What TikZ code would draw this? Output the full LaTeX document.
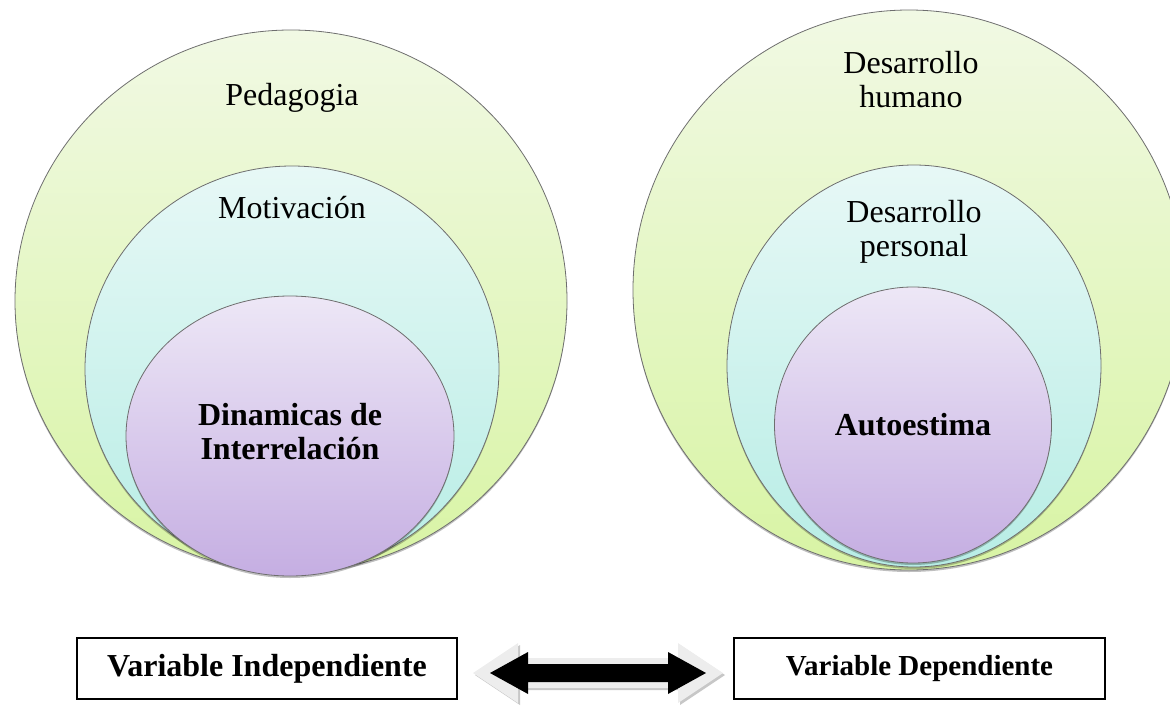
\documentclass[tikz,border=0pt]{standalone}
\usepackage{fontspec}
\setmainfont{Liberation Serif}
\usetikzlibrary{shapes.geometric}
\definecolor{gtop}{HTML}{F1F9E4}
\definecolor{gbot}{HTML}{D8F4A4}
\definecolor{ctop}{HTML}{E7F8F6}
\definecolor{cbot}{HTML}{B7EDE5}
\definecolor{ptop}{HTML}{EDE7F6}
\definecolor{pbot}{HTML}{C5AEE2}
\definecolor{ringline}{HTML}{6E6E6E}
\begin{document}
\begin{tikzpicture}[x=1pt,y=1pt,
  ring/.style={ellipse, draw=ringline, line width=0.8pt, inner sep=0pt,
    preaction={fill=black, opacity=0.25, transform canvas={yshift=-2pt}}},
  gring/.style={ring, top color=gtop, bottom color=gbot},
  cring/.style={ring, top color=ctop, bottom color=cbot},
  pring/.style={ring, top color=ptop, bottom color=pbot},
  lbl/.style={font=\fontsize{32}{34}\selectfont, align=center, inner sep=0pt},
  blbl/.style={font=\fontsize{32}{34}\selectfont\bfseries, align=center, inner sep=0pt},
  varbox/.style={draw=black, line width=1.6pt, minimum height=61pt, inner sep=0pt}
]
\useasboundingbox (0,0) rectangle (1170,-709);
% left set
\node[gring, minimum width=552pt, minimum height=542pt] (lo) at (291,-301) {};
\node[cring, minimum width=414pt, minimum height=406pt] (lm) at (292,-369) {};
\node[pring, minimum width=328pt, minimum height=280pt] (li) at (290,-436) {};
\node[lbl] (tped) at (292,-98) {Pedagogia};
\node[lbl] (tmot) at (292,-208) {Motivación};
\node[blbl] (tdin) at (290,-432) {Dinamicas de\\Interrelación};
% right set
\node[gring, minimum width=552pt, minimum height=560pt] (ro) at (909,-290) {};
\node[cring, minimum width=374pt, minimum height=402pt] (rm) at (914,-366) {};
\node[pring, minimum width=277pt, minimum height=276pt] (ri) at (913,-425) {};
\node[lbl] (thum) at (911,-80) {Desarrollo\\humano};
\node[lbl] (tper) at (914,-232) {Desarrollo\\personal};
\node[blbl] (taut) at (913,-425) {Autoestima};
% bottom boxes
\node[varbox, minimum width=380pt, font=\fontsize{32}{34}\selectfont\bfseries] (vi) at (267,-668.5) {Variable Independiente};
\node[varbox, minimum width=371pt, font=\fontsize{29}{31}\selectfont\bfseries] (vd) at (919.5,-668.5) {Variable Dependiente};
% double block arrow
\coordinate (ac) at (598,-673);
\fill[black!22, shift={(ac)}, xshift=2pt, yshift=-2pt]
  (-125,0) -- (-80,30) -- (-80,15) -- (80,15) -- (80,30) -- (125,0)
  -- (80,-30) -- (80,-15) -- (-80,-15) -- (-80,-30) -- cycle;
\fill[black!7, shift={(ac)}]
  (-125,0) -- (-80,30) -- (-80,15) -- (80,15) -- (80,30) -- (125,0)
  -- (80,-30) -- (80,-15) -- (-80,-15) -- (-80,-30) -- cycle;
\fill[black, shift={(ac)}]
  (-108,0) -- (-70,21) -- (-70,9) -- (70,9) -- (70,21) -- (108,0)
  -- (70,-21) -- (70,-9) -- (-70,-9) -- (-70,-21) -- cycle;
\end{tikzpicture}
\end{document}
